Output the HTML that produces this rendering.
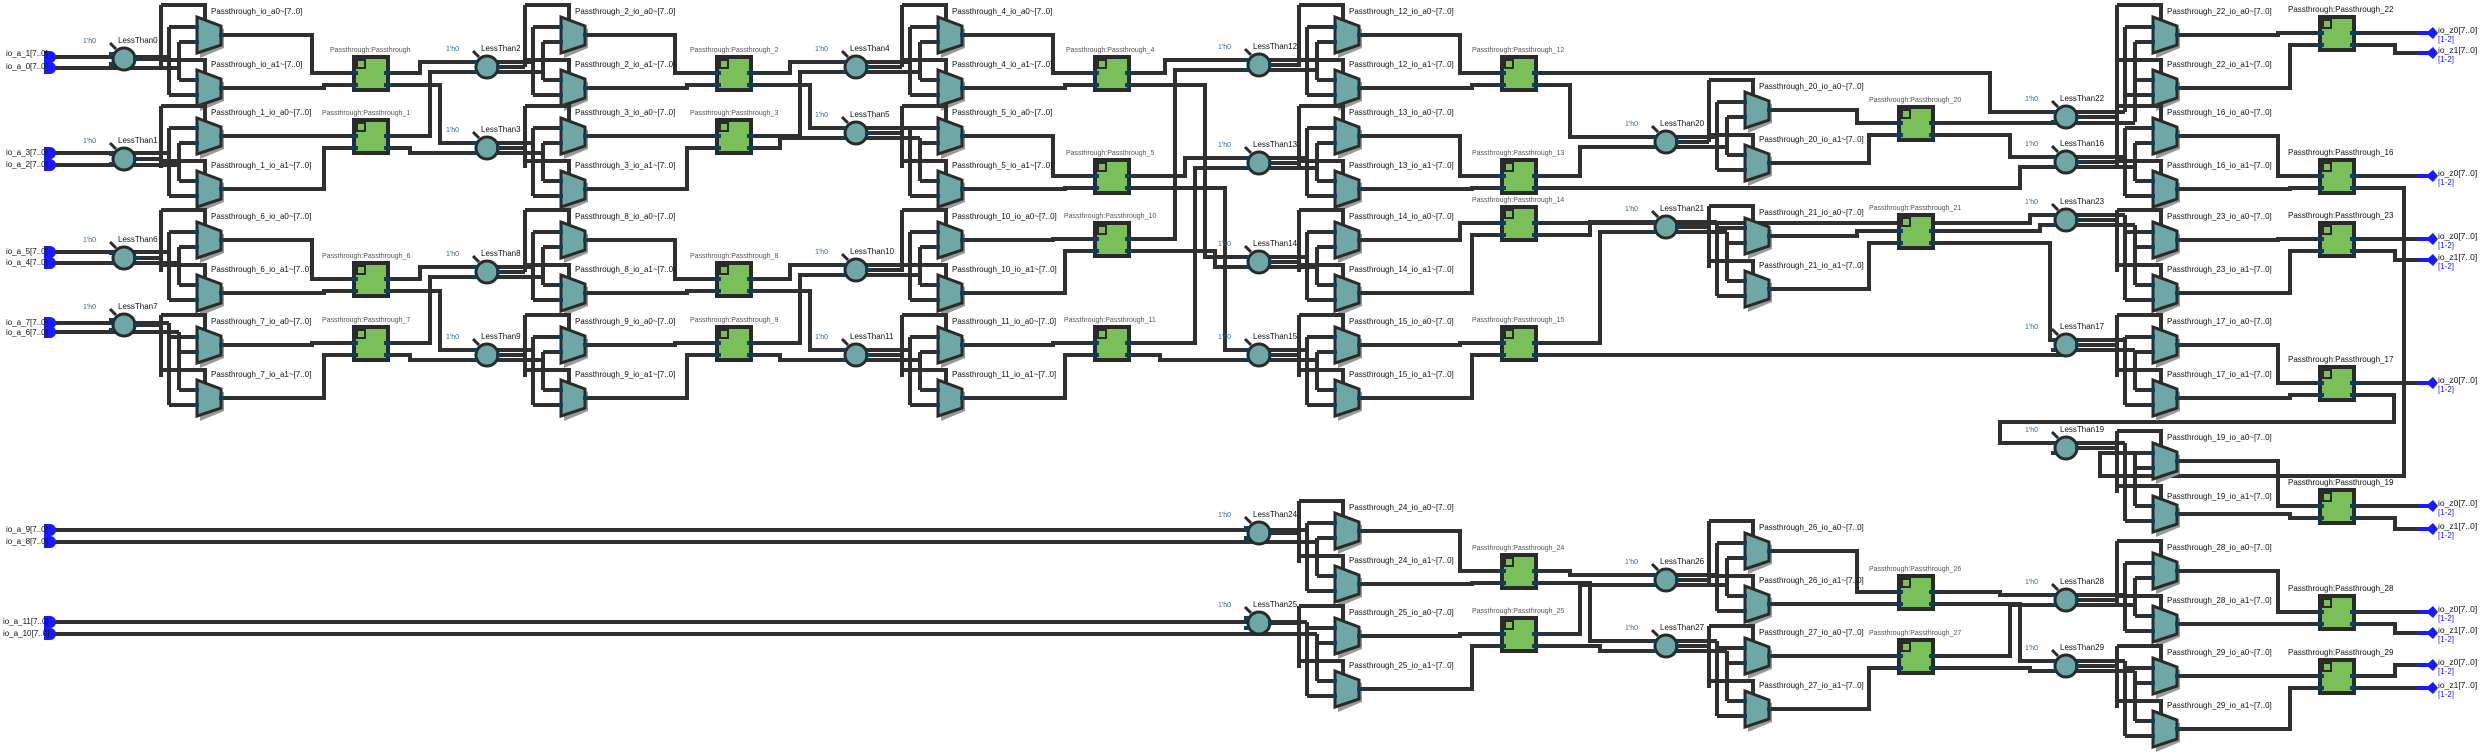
<!DOCTYPE html>
<html><head><meta charset="utf-8"><style>
html,body{margin:0;padding:0;background:#fff}
svg{display:block}
.w{fill:none;stroke:#303030;stroke-width:4}
.t{font-family:"Liberation Sans",sans-serif;font-size:8px;fill:#111}
.s{font-family:"Liberation Sans",sans-serif;font-size:7px;fill:#555}
.b{font-family:"Liberation Sans",sans-serif;font-size:7px;fill:#2a6a9a}
.o{font-family:"Liberation Sans",sans-serif;font-size:8.5px;fill:#111}
.ob{font-family:"Liberation Sans",sans-serif;font-size:8px;fill:#1a1aff}
.i{font-family:"Liberation Sans",sans-serif;font-size:8px;fill:#111}
</style></head><body>
<svg width="2481" height="753" viewBox="0 0 2481 753" xmlns="http://www.w3.org/2000/svg">
<defs>
<g id="m1"><polygon points="3,3 27,12 27,31 3,41" fill="#999"/><polygon points="0,0 24,9 24,28 0,36" fill="#6fa6a6" stroke="#2a2a2a" stroke-width="3"/><rect x="-3" y="8" width="5" height="4" fill="#0b3f5e"/><rect x="-3" y="23" width="5" height="4" fill="#0b3f5e"/><rect x="22" y="16" width="5" height="4" fill="#0b3f5e"/></g>
<g id="mx"><path class="w" d="M-28,10H0M-28,78H0M-18,25H0M-18,63H0M-28,10V78M-18,25V63M-36,-12H8V2M-36,-12V50M-36,43H8V55"/><use href="#m1"/><use href="#m1" y="53"/></g>
<g id="cp"><line x1="-14" y1="-16" x2="-8" y2="-10" stroke="#2a2a2a" stroke-width="3"/><circle r="11" fill="#6fa6a6" stroke="#2a2a2a" stroke-width="3"/><rect x="-15" y="-7" width="5" height="4" fill="#0b3f5e"/><rect x="-15" y="3" width="5" height="4" fill="#0b3f5e"/><rect x="9" y="-2" width="6" height="4" fill="#0b3f5e"/></g>
<g id="pt"><rect x="0" y="0" width="34" height="33" fill="#7bbf5a" stroke="#2a2a2a" stroke-width="4"/><rect x="3" y="3" width="8" height="8" fill="#7bbf5a" stroke="#2a2a2a" stroke-width="2"/><rect x="-4" y="14" width="8" height="4" fill="#0b3f5e"/><rect x="-4" y="26" width="8" height="4" fill="#0b3f5e"/><rect x="30" y="14" width="8" height="4" fill="#0b3f5e"/><rect x="30" y="26" width="8" height="4" fill="#0b3f5e"/></g>
<g id="in"><path d="M0,-6H6A6,6 0 0 1 6,6H0Z" fill="#1a1aff"/></g>
<g id="out"><polygon points="0,0 7,-6 12,0 7,6" fill="#1a1aff"/><rect x="-8" y="-2" width="10" height="4" fill="#1a1aff"/></g>
</defs>

<path class="w" d="
M54,57H169M54,68H179M54,153H169M54,165H179M54,252H169M54,263H179M54,323H169M54,332H179
M219,35H312V73H354M219,88H324V85H354M135,59H161M169,57V27M179,68V42
M219,136H312V136H354M219,189H324V148H354M135,159H161M169,153V128M179,165V143
M219,240H312V279H354M219,293H324V291H354M135,258H161M169,252V232M179,263V247
M219,345H312V343H354M219,398H324V355H354M135,325H161M169,323V337M179,332V352
M388,73H420V62H533M388,136H430V72H543M388,85H440V143H533M388,148H410V153H543
M388,279H420V267H533M388,343H430V277H543M388,291H440V350H533M388,355H410V360H543
M583,35H675V73H717M583,88H687V85H717M498,67H525M533,62V27M543,72V42
M583,136H675V136H717M583,189H687V148H717M498,148H525M533,143V128M543,153V143
M583,240H675V279H717M583,293H687V291H717M498,272H525M533,267V232M543,277V247
M583,345H675V343H717M583,398H687V355H717M498,355H525M533,350V337M543,360V352
M751,73H790V62H910M751,136H800V72H920M751,85H810V128H910M751,148H780V138H920
M751,279H790V265H910M751,343H800V275H920M751,291H810V350H910M751,355H780V360H920
M960,35H1053V73H1095M960,88H1065V85H1095M867,67H902M910,62V27M920,72V42
M960,136H1053V176H1095M960,189H1065V188H1095M867,133H902M920,138V143
M960,240H1053V239H1095M960,293H1065V251H1095M867,270H902M910,265V232M920,275V247
M960,345H1053V343H1095M960,398H1065V355H1095M867,355H902M910,350V337M920,360V352
M1129,73H1165V60H1307M1129,239H1175V70H1317M1129,176H1185V158H1307M1129,343H1195V168H1317
M1129,85H1205V257H1307M1129,251H1215V267H1317M1129,188H1225V350H1307M1129,355H1160V360H1317
M1357,35H1460V73H1502M1357,88H1472V85H1502M1270,65H1299M1307,60V27M1317,70V42
M1357,136H1460V176H1502M1357,189H1472V188H1502M1270,163H1299M1307,158V128M1317,168V143
M1357,240H1460V223H1502M1357,293H1472V235H1502M1270,262H1299M1307,257V232M1317,267V247
M1357,345H1460V343H1502M1357,398H1472V355H1502M1270,355H1299M1307,350V337M1317,360V352
M54,530H1307M54,542H1317M54,622H1307M54,634H1317
M1357,531H1460V571H1502M1357,584H1472V583H1502M1270,533H1299M1307,530V523M1317,542V538
M1357,636H1460V634H1502M1357,689H1472V646H1502M1270,623H1299M1307,622V628M1317,634V643
M1536,85H1570V137H1717M1536,176H1580V147H1727M1536,235H1590V222H1717M1536,343H1600V232H1727
M1536,571H1570V575H1717M1536,634H1580V585H1727M1536,583H1590V641H1717M1536,646H1600V651H1727
M1767,110H1857V123H1899M1767,163H1869V135H1899M1677,142H1709M1717,137V102M1727,147V117
M1767,236H1857V231H1899M1767,289H1869V243H1899M1677,227H1709M1717,222V228M1727,232V243
M1767,551H1857V592H1899M1767,604H1869V604H1899M1677,580H1709M1717,575V543M1727,585V558
M1767,656H1857V656H1899M1767,709H1869V668H1899M1677,646H1709M1717,641V648M1727,651V663
M1536,73H1990V112H2125M1933,123H2135M1933,135H2010V157H2125M1536,188H2020V167H2135
M1536,223H2030V215H2125M1933,231H2040V225H2135M1933,243H2050V340H2125M1536,355H2060V350H2135
M2354,395H2394V422H2000V443H2125M2354,188H2404V476H2100V453H2135
M1933,592H2000V595H2125M1933,656H2010V605H2135M1933,604H2020V661H2125M1933,668H2030V671H2135
M2175,35H2278V33H2320M2175,88H2290V45H2320M2077,117H2117V60M2125,112V27M2135,122V42
M2175,136H2278V176H2320M2175,189H2290V188H2320M2077,162H2117V160M2125,157V128M2135,167V143
M2175,240H2278V239H2320M2175,293H2290V251H2320M2077,220H2117M2125,215V232M2135,225V247
M2175,345H2278V383H2320M2175,398H2290V395H2320M2077,345H2117M2125,340V337M2135,350V352
M2175,461H2278V506H2320M2175,514H2290V518H2320M2077,448H2117M2125,443V453M2135,453V468
M2175,571H2278V612H2320M2175,624H2290V624H2320M2077,600H2117M2125,595V563M2135,605V578
M2175,676H2278V676H2320M2175,729H2290V688H2320M2077,666H2117M2125,661V668M2135,671V683
M2354,33H2428M2354,45H2395V53H2428M2354,176H2428M2354,239H2428M2354,251H2395V260H2428
M2354,383H2428M2354,506H2428M2354,518H2395V529H2428M2354,612H2428M2354,624H2395V633H2428
M2354,676H2395V665H2428M2354,688H2428
"/>

<use href="#mx" x="197" y="17"/><use href="#mx" x="197" y="118"/><use href="#mx" x="197" y="222"/><use href="#mx" x="197" y="327"/>
<use href="#mx" x="561" y="17"/><use href="#mx" x="561" y="118"/><use href="#mx" x="561" y="222"/><use href="#mx" x="561" y="327"/>
<use href="#mx" x="938" y="17"/><use href="#mx" x="938" y="118"/><use href="#mx" x="938" y="222"/><use href="#mx" x="938" y="327"/>
<use href="#mx" x="1335" y="17"/><use href="#mx" x="1335" y="118"/><use href="#mx" x="1335" y="222"/><use href="#mx" x="1335" y="327"/>
<use href="#mx" x="1335" y="513"/><use href="#mx" x="1335" y="618"/>
<use href="#mx" x="1745" y="92"/><use href="#mx" x="1745" y="218"/><use href="#mx" x="1745" y="533"/><use href="#mx" x="1745" y="638"/>
<use href="#mx" x="2153" y="17"/><use href="#mx" x="2153" y="118"/><use href="#mx" x="2153" y="222"/><use href="#mx" x="2153" y="327"/>
<use href="#mx" x="2153" y="443"/><use href="#mx" x="2153" y="553"/><use href="#mx" x="2153" y="658"/>

<use href="#cp" x="124" y="59"/><use href="#cp" x="124" y="159"/><use href="#cp" x="124" y="258"/><use href="#cp" x="124" y="325"/>
<use href="#cp" x="487" y="67"/><use href="#cp" x="487" y="148"/><use href="#cp" x="487" y="272"/><use href="#cp" x="487" y="355"/>
<use href="#cp" x="856" y="67"/><use href="#cp" x="856" y="133"/><use href="#cp" x="856" y="270"/><use href="#cp" x="856" y="355"/>
<use href="#cp" x="1259" y="65"/><use href="#cp" x="1259" y="163"/><use href="#cp" x="1259" y="262"/><use href="#cp" x="1259" y="355"/>
<use href="#cp" x="1259" y="533"/><use href="#cp" x="1259" y="623"/>
<use href="#cp" x="1666" y="142"/><use href="#cp" x="1666" y="227"/><use href="#cp" x="1666" y="580"/><use href="#cp" x="1666" y="646"/>
<use href="#cp" x="2066" y="117"/><use href="#cp" x="2066" y="162"/><use href="#cp" x="2066" y="220"/><use href="#cp" x="2066" y="345"/>
<use href="#cp" x="2066" y="448"/><use href="#cp" x="2066" y="600"/><use href="#cp" x="2066" y="666"/>

<use href="#pt" x="354" y="57"/><use href="#pt" x="354" y="120"/><use href="#pt" x="354" y="263"/><use href="#pt" x="354" y="327"/>
<use href="#pt" x="717" y="57"/><use href="#pt" x="717" y="120"/><use href="#pt" x="717" y="263"/><use href="#pt" x="717" y="327"/>
<use href="#pt" x="1095" y="57"/><use href="#pt" x="1095" y="160"/><use href="#pt" x="1095" y="223"/><use href="#pt" x="1095" y="327"/>
<use href="#pt" x="1502" y="57"/><use href="#pt" x="1502" y="160"/><use href="#pt" x="1502" y="207"/><use href="#pt" x="1502" y="327"/>
<use href="#pt" x="1502" y="555"/><use href="#pt" x="1502" y="618"/>
<use href="#pt" x="1899" y="107"/><use href="#pt" x="1899" y="215"/><use href="#pt" x="1899" y="576"/><use href="#pt" x="1899" y="640"/>
<use href="#pt" x="2320" y="17"/><use href="#pt" x="2320" y="160"/><use href="#pt" x="2320" y="223"/><use href="#pt" x="2320" y="367"/>
<use href="#pt" x="2320" y="490"/><use href="#pt" x="2320" y="596"/><use href="#pt" x="2320" y="660"/>

<use href="#in" x="44" y="57"/><use href="#in" x="44" y="68"/><use href="#in" x="44" y="153"/><use href="#in" x="44" y="165"/>
<use href="#in" x="44" y="252"/><use href="#in" x="44" y="263"/><use href="#in" x="44" y="323"/><use href="#in" x="44" y="332"/>
<use href="#in" x="44" y="530"/><use href="#in" x="44" y="542"/><use href="#in" x="44" y="622"/><use href="#in" x="44" y="634"/>
<g class="i">
<text x="6" y="56">io_a_1[7..0]</text><text x="6" y="69">io_a_0[7..0]</text>
<text x="6" y="155">io_a_3[7..0]</text><text x="6" y="167">io_a_2[7..0]</text>
<text x="6" y="254">io_a_5[7..0]</text><text x="6" y="265">io_a_4[7..0]</text>
<text x="6" y="325">io_a_7[7..0]</text><text x="6" y="335">io_a_6[7..0]</text>
<text x="6" y="532">io_a_9[7..0]</text><text x="6" y="544">io_a_8[7..0]</text>
<text x="3" y="624">io_a_11[7..0]</text><text x="3" y="636">io_a_10[7..0]</text>
</g>

<use href="#out" x="2426" y="33"/><use href="#out" x="2426" y="53"/><use href="#out" x="2426" y="176"/><use href="#out" x="2426" y="239"/><use href="#out" x="2426" y="260"/>
<use href="#out" x="2426" y="383"/><use href="#out" x="2426" y="506"/><use href="#out" x="2426" y="529"/><use href="#out" x="2426" y="612"/><use href="#out" x="2426" y="633"/>
<use href="#out" x="2426" y="665"/><use href="#out" x="2426" y="688"/>
<g class="o">
<text x="2438" y="33">io_z0[7..0]</text><text x="2438" y="53">io_z1[7..0]</text><text x="2438" y="176">io_z0[7..0]</text>
<text x="2438" y="239">io_z0[7..0]</text><text x="2438" y="260">io_z1[7..0]</text><text x="2438" y="383">io_z0[7..0]</text>
<text x="2438" y="506">io_z0[7..0]</text><text x="2438" y="529">io_z1[7..0]</text><text x="2438" y="612">io_z0[7..0]</text>
<text x="2438" y="633">io_z1[7..0]</text><text x="2438" y="665">io_z0[7..0]</text><text x="2438" y="688">io_z1[7..0]</text>
</g>
<g class="ob">
<text x="2438" y="42">[1-2]</text><text x="2438" y="62">[1-2]</text><text x="2438" y="185">[1-2]</text><text x="2438" y="248">[1-2]</text>
<text x="2438" y="269">[1-2]</text><text x="2438" y="392">[1-2]</text><text x="2438" y="515">[1-2]</text><text x="2438" y="538">[1-2]</text>
<text x="2438" y="621">[1-2]</text><text x="2438" y="642">[1-2]</text><text x="2438" y="674">[1-2]</text><text x="2438" y="697">[1-2]</text>
</g>

<g class="t">
<text x="118" y="43">LessThan0</text><text x="118" y="143">LessThan1</text><text x="118" y="242">LessThan6</text><text x="118" y="309">LessThan7</text>
<text x="481" y="51">LessThan2</text><text x="481" y="132">LessThan3</text><text x="481" y="256">LessThan8</text><text x="481" y="339">LessThan9</text>
<text x="850" y="51">LessThan4</text><text x="850" y="117">LessThan5</text><text x="850" y="254">LessThan10</text><text x="850" y="339">LessThan11</text>
<text x="1253" y="49">LessThan12</text><text x="1253" y="147">LessThan13</text><text x="1253" y="246">LessThan14</text><text x="1253" y="339">LessThan15</text>
<text x="1253" y="517">LessThan24</text><text x="1253" y="607">LessThan25</text>
<text x="1660" y="126">LessThan20</text><text x="1660" y="211">LessThan21</text><text x="1660" y="564">LessThan26</text><text x="1660" y="630">LessThan27</text>
<text x="2060" y="101">LessThan22</text><text x="2060" y="146">LessThan16</text><text x="2060" y="204">LessThan23</text><text x="2060" y="329">LessThan17</text>
<text x="2060" y="432">LessThan19</text><text x="2060" y="584">LessThan28</text><text x="2060" y="650">LessThan29</text>
</g>
<g class="b">
<text x="83" y="43">1'h0</text><text x="83" y="143">1'h0</text><text x="83" y="242">1'h0</text><text x="83" y="309">1'h0</text>
<text x="446" y="51">1'h0</text><text x="446" y="132">1'h0</text><text x="446" y="256">1'h0</text><text x="446" y="339">1'h0</text>
<text x="815" y="51">1'h0</text><text x="815" y="117">1'h0</text><text x="815" y="254">1'h0</text><text x="815" y="339">1'h0</text>
<text x="1218" y="49">1'h0</text><text x="1218" y="147">1'h0</text><text x="1218" y="246">1'h0</text><text x="1218" y="339">1'h0</text>
<text x="1218" y="517">1'h0</text><text x="1218" y="607">1'h0</text>
<text x="1625" y="126">1'h0</text><text x="1625" y="211">1'h0</text><text x="1625" y="564">1'h0</text><text x="1625" y="630">1'h0</text>
<text x="2025" y="101">1'h0</text><text x="2025" y="146">1'h0</text><text x="2025" y="204">1'h0</text><text x="2025" y="329">1'h0</text>
<text x="2025" y="432">1'h0</text><text x="2025" y="584">1'h0</text><text x="2025" y="650">1'h0</text>
</g>

<g class="t">
<text x="211" y="14">Passthrough_io_a0~[7..0]</text><text x="211" y="67">Passthrough_io_a1~[7..0]</text>
<text x="211" y="115">Passthrough_1_io_a0~[7..0]</text><text x="211" y="168">Passthrough_1_io_a1~[7..0]</text>
<text x="211" y="219">Passthrough_6_io_a0~[7..0]</text><text x="211" y="272">Passthrough_6_io_a1~[7..0]</text>
<text x="211" y="324">Passthrough_7_io_a0~[7..0]</text><text x="211" y="377">Passthrough_7_io_a1~[7..0]</text>
<text x="575" y="14">Passthrough_2_io_a0~[7..0]</text><text x="575" y="67">Passthrough_2_io_a1~[7..0]</text>
<text x="575" y="115">Passthrough_3_io_a0~[7..0]</text><text x="575" y="168">Passthrough_3_io_a1~[7..0]</text>
<text x="575" y="219">Passthrough_8_io_a0~[7..0]</text><text x="575" y="272">Passthrough_8_io_a1~[7..0]</text>
<text x="575" y="324">Passthrough_9_io_a0~[7..0]</text><text x="575" y="377">Passthrough_9_io_a1~[7..0]</text>
<text x="952" y="14">Passthrough_4_io_a0~[7..0]</text><text x="952" y="67">Passthrough_4_io_a1~[7..0]</text>
<text x="952" y="115">Passthrough_5_io_a0~[7..0]</text><text x="952" y="168">Passthrough_5_io_a1~[7..0]</text>
<text x="952" y="219">Passthrough_10_io_a0~[7..0]</text><text x="952" y="272">Passthrough_10_io_a1~[7..0]</text>
<text x="952" y="324">Passthrough_11_io_a0~[7..0]</text><text x="952" y="377">Passthrough_11_io_a1~[7..0]</text>
<text x="1349" y="14">Passthrough_12_io_a0~[7..0]</text><text x="1349" y="67">Passthrough_12_io_a1~[7..0]</text>
<text x="1349" y="115">Passthrough_13_io_a0~[7..0]</text><text x="1349" y="168">Passthrough_13_io_a1~[7..0]</text>
<text x="1349" y="219">Passthrough_14_io_a0~[7..0]</text><text x="1349" y="272">Passthrough_14_io_a1~[7..0]</text>
<text x="1349" y="324">Passthrough_15_io_a0~[7..0]</text><text x="1349" y="377">Passthrough_15_io_a1~[7..0]</text>
<text x="1349" y="510">Passthrough_24_io_a0~[7..0]</text><text x="1349" y="563">Passthrough_24_io_a1~[7..0]</text>
<text x="1349" y="615">Passthrough_25_io_a0~[7..0]</text><text x="1349" y="668">Passthrough_25_io_a1~[7..0]</text>
<text x="1759" y="89">Passthrough_20_io_a0~[7..0]</text><text x="1759" y="142">Passthrough_20_io_a1~[7..0]</text>
<text x="1759" y="215">Passthrough_21_io_a0~[7..0]</text><text x="1759" y="268">Passthrough_21_io_a1~[7..0]</text>
<text x="1759" y="530">Passthrough_26_io_a0~[7..0]</text><text x="1759" y="583">Passthrough_26_io_a1~[7..0]</text>
<text x="1759" y="635">Passthrough_27_io_a0~[7..0]</text><text x="1759" y="688">Passthrough_27_io_a1~[7..0]</text>
<text x="2167" y="14">Passthrough_22_io_a0~[7..0]</text><text x="2167" y="67">Passthrough_22_io_a1~[7..0]</text>
<text x="2167" y="115">Passthrough_16_io_a0~[7..0]</text><text x="2167" y="168">Passthrough_16_io_a1~[7..0]</text>
<text x="2167" y="219">Passthrough_23_io_a0~[7..0]</text><text x="2167" y="272">Passthrough_23_io_a1~[7..0]</text>
<text x="2167" y="324">Passthrough_17_io_a0~[7..0]</text><text x="2167" y="377">Passthrough_17_io_a1~[7..0]</text>
<text x="2167" y="440">Passthrough_19_io_a0~[7..0]</text><text x="2167" y="499">Passthrough_19_io_a1~[7..0]</text>
<text x="2167" y="550">Passthrough_28_io_a0~[7..0]</text><text x="2167" y="603">Passthrough_28_io_a1~[7..0]</text>
<text x="2167" y="655">Passthrough_29_io_a0~[7..0]</text><text x="2167" y="708">Passthrough_29_io_a1~[7..0]</text>
</g>

<g class="s">
<text x="330" y="52">Passthrough:Passthrough</text><text x="322" y="115">Passthrough:Passthrough_1</text><text x="322" y="258">Passthrough:Passthrough_6</text><text x="322" y="322">Passthrough:Passthrough_7</text>
<text x="690" y="52">Passthrough:Passthrough_2</text><text x="690" y="115">Passthrough:Passthrough_3</text><text x="690" y="258">Passthrough:Passthrough_8</text><text x="690" y="322">Passthrough:Passthrough_9</text>
<text x="1066" y="52">Passthrough:Passthrough_4</text><text x="1066" y="155">Passthrough:Passthrough_5</text><text x="1064" y="218">Passthrough:Passthrough_10</text><text x="1064" y="322">Passthrough:Passthrough_11</text>
<text x="1472" y="52">Passthrough:Passthrough_12</text><text x="1472" y="155">Passthrough:Passthrough_13</text><text x="1472" y="202">Passthrough:Passthrough_14</text><text x="1472" y="322">Passthrough:Passthrough_15</text>
<text x="1472" y="550">Passthrough:Passthrough_24</text><text x="1472" y="613">Passthrough:Passthrough_25</text>
<text x="1869" y="102">Passthrough:Passthrough_20</text><text x="1869" y="210">Passthrough:Passthrough_21</text><text x="1869" y="571">Passthrough:Passthrough_26</text><text x="1869" y="635">Passthrough:Passthrough_27</text>
</g>
<g class="t">
<text x="2288" y="12">Passthrough:Passthrough_22</text><text x="2288" y="155">Passthrough:Passthrough_16</text><text x="2288" y="218">Passthrough:Passthrough_23</text>
<text x="2288" y="362">Passthrough:Passthrough_17</text><text x="2288" y="485">Passthrough:Passthrough_19</text><text x="2288" y="591">Passthrough:Passthrough_28</text>
<text x="2288" y="655">Passthrough:Passthrough_29</text>
</g>
</svg>
</body></html>
